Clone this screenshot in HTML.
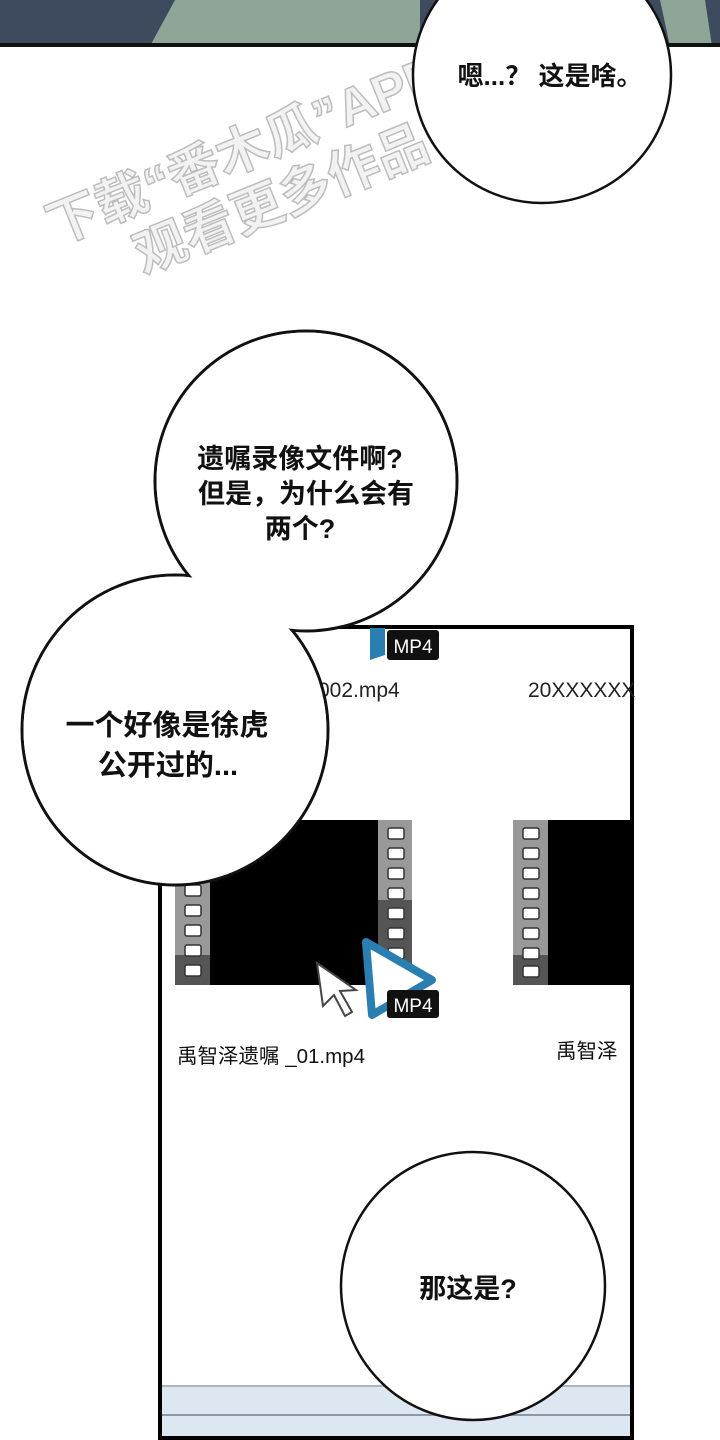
<!DOCTYPE html>
<html><head><meta charset="utf-8"><style>
html,body{margin:0;padding:0;background:#fff;}
body{width:720px;height:1440px;overflow:hidden;position:relative;}
svg{position:absolute;left:0;top:0;}
text{font-family:"Liberation Sans","Noto Sans CJK SC",sans-serif;}
</style></head><body>
<svg width="720" height="1440" viewBox="0 0 720 1440">
<rect x="0" y="0" width="720" height="46" fill="#3e4b5e"/>
<polygon points="150,46 175,0 420,0 420,46" fill="#8ea597"/>
<polygon points="660,0 705,0 712,46 670,46" fill="#8ea597"/>
<rect x="0" y="43" width="720" height="4" fill="#111"/>
<g fill="#f2f2f2" stroke="#bdbdbd" stroke-width="1.5" font-size="52" font-weight="bold" transform="rotate(-22 220 130)">
<text x="25" y="175">下载“番木瓜”APP</text>
<text x="95" y="235">观看更多作品</text>
</g>
<ellipse cx="542" cy="75" rx="129" ry="128" fill="#fff" stroke="#111" stroke-width="2.5"/>
<text x="550" y="85" font-size="26" font-weight="bold" text-anchor="middle" fill="#111">嗯...？ 这是啥。</text>

<rect x="160" y="627" width="472" height="811" fill="#fff" stroke="#000" stroke-width="4"/>
<rect x="162" y="1385" width="468" height="51" fill="#dde7f1"/>
<line x1="162" y1="1386" x2="630" y2="1386" stroke="#aab5c2" stroke-width="2"/>
<line x1="162" y1="1415" x2="630" y2="1415" stroke="#8c97a4" stroke-width="2"/>
<polygon points="370,628 385,628 385,655 370,660" fill="#2b7fb0"/>
<rect x="387" y="630" width="52" height="30" rx="3" fill="#111"/>
<text x="413" y="653" font-size="19" fill="#fff" text-anchor="middle">MP4</text>
<text x="318" y="697" font-size="21" fill="#222">002.mp4</text>
<text x="528" y="697" font-size="21" fill="#222">20XXXXXX</text>
<rect x="175" y="820" width="237" height="165" fill="#000"/>
<rect x="175" y="820" width="35" height="165" fill="#999"/>
<rect x="175" y="955" width="35" height="30" fill="#555"/>
<rect x="378" y="820" width="34" height="165" fill="#999"/>
<rect x="378" y="900" width="34" height="85" fill="#555"/>
<g fill="#fff" stroke="#333" stroke-width="1.5">
<rect x="185" y="885" width="16" height="11" rx="2"/><rect x="185" y="905" width="16" height="11" rx="2"/><rect x="185" y="925" width="16" height="11" rx="2"/><rect x="185" y="945" width="16" height="11" rx="2"/><rect x="185" y="965" width="16" height="11" rx="2"/>
<rect x="388" y="828" width="16" height="11" rx="2"/><rect x="388" y="848" width="16" height="11" rx="2"/><rect x="388" y="868" width="16" height="11" rx="2"/><rect x="388" y="888" width="16" height="11" rx="2"/><rect x="388" y="908" width="16" height="11" rx="2"/><rect x="388" y="928" width="16" height="11" rx="2"/><rect x="388" y="948" width="16" height="11" rx="2"/>
</g>
<rect x="513" y="820" width="119" height="165" fill="#000"/>
<rect x="513" y="820" width="35" height="165" fill="#999"/>
<rect x="513" y="955" width="35" height="30" fill="#555"/>
<g fill="#fff" stroke="#333" stroke-width="1.5">
<rect x="523" y="828" width="16" height="11" rx="2"/><rect x="523" y="848" width="16" height="11" rx="2"/><rect x="523" y="868" width="16" height="11" rx="2"/><rect x="523" y="888" width="16" height="11" rx="2"/><rect x="523" y="908" width="16" height="11" rx="2"/><rect x="523" y="928" width="16" height="11" rx="2"/><rect x="523" y="948" width="16" height="11" rx="2"/><rect x="523" y="966" width="16" height="11" rx="2"/>
</g>
<polygon points="366,942 432,980 372,1015" fill="#fff" stroke="#2b7fb0" stroke-width="8" stroke-linejoin="round"/>
<rect x="387" y="990" width="52" height="28" rx="3" fill="#111"/>
<text x="413" y="1012" font-size="19" fill="#fff" text-anchor="middle">MP4</text>
<polygon points="317,963 356,990 340,991 352,1012 345,1016 334,995 323,1006" fill="#fff" stroke="#444" stroke-width="2"/>
<text x="177" y="1063" font-size="20.5" fill="#111">禹智泽遗嘱 _01.mp4</text>
<text x="556" y="1058" font-size="20.5" fill="#111">禹智泽</text>

<g stroke="#111" stroke-width="3" fill="none">
<ellipse cx="306" cy="481" rx="151" ry="150"/>
<ellipse cx="175" cy="730" rx="153" ry="155"/>
</g>
<g fill="#fff">
<ellipse cx="306" cy="481" rx="149.5" ry="148.5"/>
<ellipse cx="175" cy="730" rx="151.5" ry="153.5"/>
</g>
<g font-size="27" font-weight="bold" fill="#111" text-anchor="middle">
<text x="300" y="468">遗嘱录像文件啊?</text>
<text x="306" y="503">但是，为什么会有</text>
<text x="300" y="538">两个?</text>
</g>
<g font-size="29" font-weight="bold" fill="#111" text-anchor="middle">
<text x="167" y="735">一个好像是徐虎</text>
<text x="168" y="775">公开过的...</text>
</g>
<ellipse cx="473" cy="1286" rx="132" ry="134" fill="#fff" stroke="#111" stroke-width="2.5"/>
<text x="468" y="1298" font-size="27" font-weight="bold" fill="#111" text-anchor="middle">那这是?</text>
</svg>
</body></html>
